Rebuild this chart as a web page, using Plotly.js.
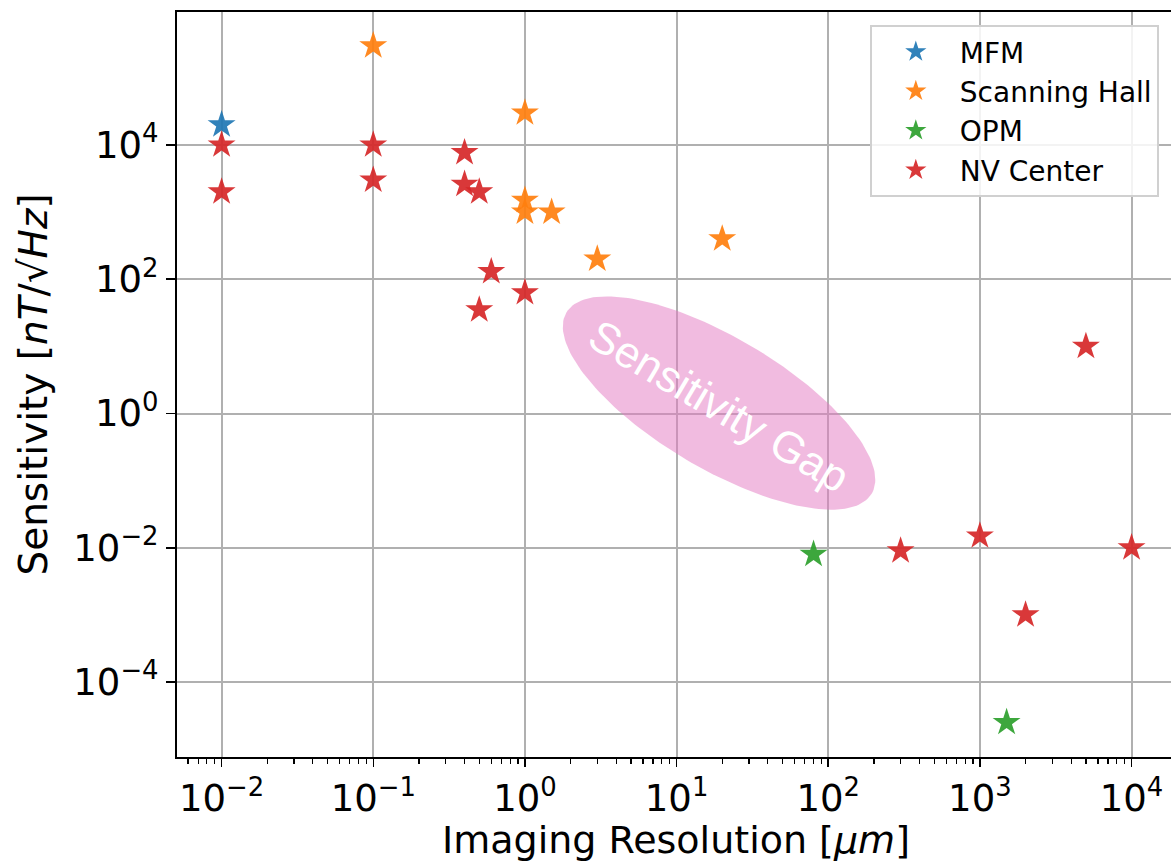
<!DOCTYPE html>
<html><head><meta charset="utf-8">
<script src="https://cdn.plot.ly/plotly-3.0.1.min.js"></script>
<style>html,body{margin:0;padding:0;background:#fff}</style>
</head><body><div id="chart" style="width:1171px;height:862px"></div>
<script>
// ---- data ----
const seriesNames = ['MFM', 'Scanning Hall', 'OPM', 'NV Center'];
const mfmX = [0.01];
const mfmY = [2e4];
const hallX = [0.1, 1, 1, 1, 1.5, 3, 20];
const hallY = [3e5, 3e4, 1.5e3, 1e3, 1e3, 200, 400];
const opmX = [80, 1500];
const opmY = [8e-3, 2.5e-5];
const nvX = [0.01, 0.01, 0.1, 0.1, 0.4, 0.4, 0.5, 0.6, 0.5, 1, 300, 1000, 2000, 5000, 10000];
const nvY = [1e4, 2e3, 1e4, 3e3, 7.7e3, 2.6e3, 2e3, 130, 35, 63, 9e-3, 1.5e-2, 1e-3, 10, 1e-2];
const xTickVals = [1e-2, 1e-1, 1, 10, 100, 1e3, 1e4];
const yTickVals = [1e-4, 1e-2, 1, 1e2, 1e4];
const xTitle = 'Imaging Resolution [<i>\u03bcm</i>]';
const yTitle = 'Sensitivity [<i>nT</i>/\u221a<i>Hz</i>]';
const gapLabel = 'Sensitivity Gap';

// ---- styling ----
const colors = ['#1f77b4', '#ff7f0e', '#2ca02c', '#d62728'];
const W = 1171, H = 862;
const margin = {l: 177, r: 0, t: 12, b: 105};
const xRange = [-2.294, 4.260];
const yRange = [-5.117, 5.981];
const pxPerDecX = (W - margin.l - margin.r) / (xRange[1] - xRange[0]);
const pxPerDecY = (H - margin.t - margin.b) / (yRange[1] - yRange[0]);

// ellipse of the "sensitivity gap" (centre in log10 units, axes in screen px)
const gap = {cx: 1.28, cy: 0.156, a: 177.5, b: 65.4, angleDeg: 30.7};
const th = gap.angleDeg * Math.PI / 180;
const ex = [], ey = [];
for (let i = 0; i <= 180; i++) {
  const t = 2 * Math.PI * i / 180;
  const dx = gap.a * Math.cos(t) * Math.cos(th) - gap.b * Math.sin(t) * Math.sin(th);
  const dyDown = gap.a * Math.cos(t) * Math.sin(th) + gap.b * Math.sin(t) * Math.cos(th);
  ex.push(Math.pow(10, gap.cx + dx / pxPerDecX));
  ey.push(Math.pow(10, gap.cy - dyDown / pxPerDecY));
}

function tickText(v) {
  const e = Math.round(Math.log10(v));
  return '10<sup>' + (e < 0 ? '\u2212' + (-e) : e) + '</sup>';
}

const mk = (c) => ({symbol: 'star', size: 21, color: c, opacity: 0.92, line: {width: 0}});
const traces = [
  {x: ex, y: ey, mode: 'lines', fill: 'toself', fillcolor: 'rgba(227,119,194,0.5)',
   line: {width: 0, color: 'rgba(0,0,0,0)'}, hoverinfo: 'skip', showlegend: false},
  {x: mfmX, y: mfmY, name: seriesNames[0], mode: 'markers', type: 'scatter', marker: mk(colors[0])},
  {x: hallX, y: hallY, name: seriesNames[1], mode: 'markers', type: 'scatter', marker: mk(colors[1])},
  {x: opmX, y: opmY, name: seriesNames[2], mode: 'markers', type: 'scatter', marker: mk(colors[2])},
  {x: nvX, y: nvY, name: seriesNames[3], mode: 'markers', type: 'scatter', marker: mk(colors[3])}
];

const axisFont = {family: 'DejaVu Sans', size: 37, color: '#000'};
const titleFont = {family: 'DejaVu Sans', size: 38, color: '#000'};
const layout = {
  width: W, height: H, margin: margin,
  paper_bgcolor: '#fff', plot_bgcolor: '#fff',
  font: {family: 'DejaVu Sans', color: '#000'},
  xaxis: {
    type: 'log', range: xRange, tickvals: xTickVals, ticktext: xTickVals.map(tickText),
    tickfont: axisFont, ticks: 'outside', ticklen: 8, tickwidth: 1.5, tickcolor: '#000',
    showline: true, linecolor: '#000', linewidth: 2, mirror: true,
    showgrid: true, gridcolor: '#b0b0b0', gridwidth: 2, zeroline: false,
    minor: {ticks: 'outside', ticklen: 5, tickwidth: 1.2, tickcolor: '#000', showgrid: false, dtick: 'D1'}
  },
  yaxis: {
    type: 'log', range: yRange, tickvals: yTickVals, ticktext: yTickVals.map(tickText),
    tickfont: axisFont, ticks: 'outside', ticklen: 9, tickwidth: 1.5, tickcolor: '#000',
    showline: true, linecolor: '#000', linewidth: 2, mirror: false,
    showgrid: true, gridcolor: '#b0b0b0', gridwidth: 2, zeroline: false,
    title: {text: yTitle, font: {family: 'DejaVu Sans', size: 39, color: '#000'}, standoff: 14}
  },
  legend: {
    x: 0.697, y: 0.9826, xanchor: 'left', yanchor: 'top',
    bgcolor: 'rgba(255,255,255,0.85)', bordercolor: '#d0d0d0', borderwidth: 2,
    font: {family: 'DejaVu Sans', size: 28, color: '#000'}, itemwidth: 78
  },
  annotations: [
    {x: gap.cx, y: gap.cy, xref: 'x', yref: 'y', text: gapLabel, showarrow: false,
     textangle: gap.angleDeg, xshift: 0, yshift: -2,
     font: {family: 'Liberation Sans', size: 44, color: '#ffffff'}},
    {x: 0.502, y: -0.1114, xref: 'paper', yref: 'paper', text: xTitle, showarrow: false,
     xanchor: 'center', yanchor: 'middle', font: titleFont}
  ],
  showlegend: true
};

Plotly.newPlot('chart', traces, layout, {displayModeBar: false, staticPlot: true});
</script>
</body></html>
